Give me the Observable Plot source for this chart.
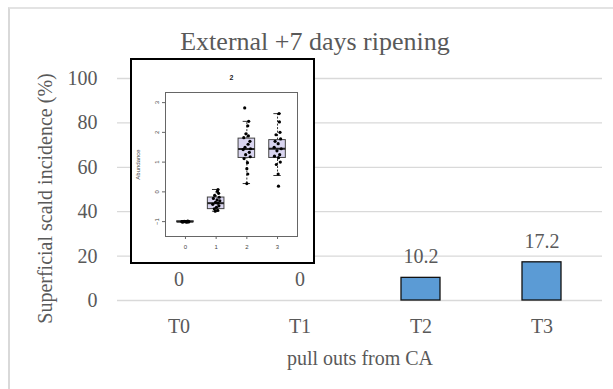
<!DOCTYPE html>
<html>
<head>
<meta charset="utf-8">
<script src="https://cdn.jsdelivr.net/npm/d3@7"></script>
<script src="https://cdn.jsdelivr.net/npm/@observablehq/plot@0.6"></script>
<style>
  html, body { margin: 0; padding: 0; background: #fff; }
  #wrap { position: relative; width: 613px; height: 389px; overflow: hidden; background: #fff; }
  #frameLine { position: absolute; left: 8px; top: 7px; width: 620px; height: 400px;
    border-left: 2px solid #d9d9d9; border-top: 2px solid #e3e3e3; }
  #main { position: absolute; left: 0; top: 0; }
  #main svg, #main svg text { font-family: "Liberation Serif", "Times New Roman", serif !important; }
  #inset { position: absolute; left: 130px; top: 58px; width: 181px; height: 202px;
    border: 2px solid #000; background: #fff; }
  #inset svg, #inset svg text { font-family: "Liberation Sans", Arial, sans-serif !important; }
  #inset svg, #main svg { display: block; }
</style>
</head>
<body>
<div id="wrap">
  <div id="frameLine"></div>
  <div id="main"></div>
  <div id="inset"></div>
</div>
<script>
// ---- main chart data ----
const categories = ["T0", "T1", "T2", "T3"];
const incidence = [0, 0, 10.2, 17.2];
const yTicks = [0, 20, 40, 60, 80, 100];
const titleText = "External +7 days ripening";
const yLabel = "Superficial scald incidence (%)";
const xLabel = "pull outs from CA";

// ---- inset boxplot data ----
const insetTitle = "2";
const insetYLabel = "Abundance";
const insetXTicks = [0, 1, 2, 3];
const insetYTicks = [-1, 0, 1, 2, 3];
const boxPos = [0, 1, 2, 3];
const boxQ1  = [-1.02, -0.58, 1.14, 1.14];
const boxMed = [-1.00, -0.38, 1.44, 1.45];
const boxQ3  = [-0.99, -0.19, 1.79, 1.74];
const boxLo  = [-1.03, -0.65, 0.28, 0.55];
const boxHi  = [-0.97, 0.08, 2.37, 2.63];

const g0Vals = [-1.0, -1.01, -0.99, -1.0, -1.02, -0.98, -1.0, -1.01, -0.99, -1.0, -1.0, -1.01];
const g0Jit  = [-0.12, -0.08, -0.04, 0.0, 0.04, 0.08, 0.11, -0.1, 0.06, -0.02, 0.02, 0.1];
const g1Vals = [0.08, 0.02, -0.05, -0.12, -0.18, -0.22, -0.27, -0.3, -0.35, -0.38, -0.42, -0.47, -0.52, -0.57, -0.62, -0.65];
const g1Jit  = [0.06, 0.04, 0.08, -0.05, 0.1, -0.09, 0.03, 0.12, -0.02, 0.06, -0.11, 0.09, 0.01, -0.06, 0.05, -0.03];
const g2Vals = [2.82, 2.37, 2.22, 1.95, 1.88, 1.82, 1.7, 1.6, 1.5, 1.45, 1.42, 1.33, 1.25, 1.18, 1.12, 0.98, 0.78, 0.6, 0.28];
const g2Jit  = [-0.07, 0.06, 0.03, -0.03, 0.05, -0.1, 0.1, 0.04, -0.06, 0.12, -0.12, 0.08, -0.04, 0.11, -0.09, 0.02, 0.0, 0.03, 0.0];
const g3Vals = [2.63, 2.35, 2.0, 1.92, 1.78, 1.7, 1.62, 1.5, 1.45, 1.38, 1.25, 1.2, 1.15, 1.0, 0.92, 0.6, 0.19];
const g3Jit  = [0.05, 0.06, 0.08, -0.05, 0.1, -0.08, 0.02, -0.11, 0.12, -0.02, 0.07, -0.1, 0.03, 0.09, -0.04, 0.02, 0.03];

// ---- build tables ----
const bars = categories.map((c, i) => ({cat: c, v: incidence[i]}));
const boxes = boxPos.map((p, i) => ({pos: p, q1: boxQ1[i], med: boxMed[i], q3: boxQ3[i], lo: boxLo[i], hi: boxHi[i]}));
const points = [];
[[g0Vals, g0Jit], [g1Vals, g1Jit], [g2Vals, g2Jit], [g3Vals, g3Jit]].forEach(([vals, jit], g) => {
  vals.forEach((v, i) => points.push({g, v, j: jit[i]}));
});

const gray = "#595959";
const serif = "Liberation Serif";

const main = Plot.plot({
  width: 613, height: 389,
  marginLeft: 117, marginRight: 11, marginTop: 78, marginBottom: 89,
  style: {fontFamily: serif, background: "transparent", color: gray},
  x: {domain: categories, paddingInner: 0.68, paddingOuter: 0.34, axis: null},
  y: {domain: [0, 100], axis: null},
  marks: [
    Plot.gridY(yTicks, {stroke: "#d9d9d9", strokeOpacity: 1, strokeWidth: 1.3}),
    Plot.axisY(yTicks, {tickSize: 0, tickPadding: 20, fontSize: 20, fill: gray, label: null, fontFamily: serif}),
    Plot.axisX({tickSize: 0, tickPadding: 18, fontSize: 20, fill: gray, label: null, fontFamily: serif}),
    Plot.barY(bars, {x: "cat", y: "v", fill: "#5b9bd5", stroke: "#111", strokeWidth: 1.3}),
    Plot.text(bars, {x: "cat", y: "v", text: d => String(d.v), dy: -21, fontSize: 20, fill: gray, fontFamily: serif}),
    Plot.text([titleText], {frameAnchor: "top", lineAnchor: "middle", textAnchor: "middle", dx: -45, dy: -37, fontSize: 26, fill: gray, fontFamily: serif}),
    Plot.text([yLabel], {frameAnchor: "left", lineAnchor: "middle", textAnchor: "middle", dx: -72, dy: 9, rotate: -90, fontSize: 20, fill: gray, fontFamily: serif}),
    Plot.text([xLabel], {frameAnchor: "bottom", lineAnchor: "middle", textAnchor: "middle", dy: 58, fontSize: 20, fill: gray, fontFamily: serif})
  ]
});
document.getElementById("main").appendChild(main);

const sans = "Liberation Sans";
const inset = Plot.plot({
  width: 181, height: 202,
  marginLeft: 33, marginRight: 16, marginTop: 32, marginBottom: 26,
  style: {fontFamily: sans, background: "#fff", color: "#444"},
  x: {domain: [-0.65, 3.65], axis: null},
  y: {domain: [-1.5, 3.34], axis: null},
  marks: [
    Plot.frame({stroke: "#666", strokeWidth: 1}),
    Plot.axisY(insetYTicks, {tickSize: 3, tickPadding: 4, tickRotate: -90, fontSize: 6, label: null, stroke: "#666", fill: "#444"}),
    Plot.axisX(insetXTicks, {tickSize: 3, tickPadding: 5, fontSize: 6, label: null, stroke: "#666", fill: "#444"}),
    Plot.ruleX(boxes, {x: "pos", y1: "q3", y2: "hi", stroke: "#333", strokeDasharray: "2,1.5"}),
    Plot.ruleX(boxes, {x: "pos", y1: "lo", y2: "q1", stroke: "#333", strokeDasharray: "2,1.5"}),
    Plot.ruleY(boxes, {y: "hi", x1: d => d.pos - 0.12, x2: d => d.pos + 0.12, stroke: "#333"}),
    Plot.ruleY(boxes, {y: "lo", x1: d => d.pos - 0.12, x2: d => d.pos + 0.12, stroke: "#333"}),
    Plot.rect(boxes, {x1: d => d.pos - 0.27, x2: d => d.pos + 0.27, y1: "q1", y2: "q3", fill: "#d9d5f0", stroke: "#444"}),
    Plot.ruleY(boxes, {y: "med", x1: d => d.pos - 0.27, x2: d => d.pos + 0.27, stroke: "#222", strokeWidth: 2}),
    Plot.dot(points, {x: d => d.g + d.j, y: "v", r: 1.6, fill: "#000", stroke: null}),
    Plot.text([insetTitle], {frameAnchor: "top", lineAnchor: "middle", dy: -15, fontSize: 7, fontWeight: "bold", fill: "#222"}),
    Plot.text([insetYLabel], {frameAnchor: "left", lineAnchor: "middle", textAnchor: "middle", dx: -27, rotate: -90, fontSize: 6, fill: "#444"})
  ]
});
document.getElementById("inset").appendChild(inset);
</script>
</body>
</html>
